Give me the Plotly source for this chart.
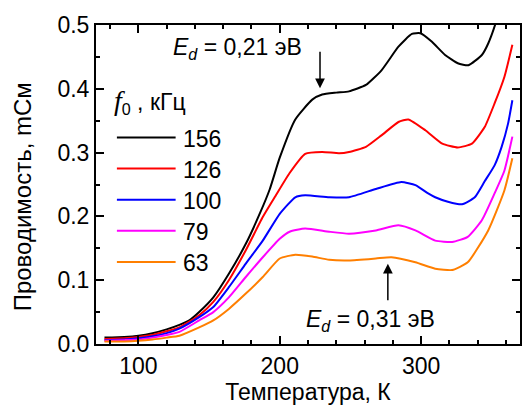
import plotly.graph_objects as go

# ---- data ----
names = ["156", "126", "100", "79", "63"]
colors = ["#000000", "#ff0000", "#0000ff", "#ff00ff", "#ff7f00"]

T_156 = [76, 90, 100, 110, 120, 129, 136, 143, 153, 164, 176, 186, 193, 200, 211, 223, 230, 240, 249, 261, 272, 284, 293.5, 299.5, 307.5, 317, 326, 333.5, 343, 347.5, 353.5, 358]
G_156 = [0.010, 0.011, 0.013, 0.017, 0.023, 0.030, 0.037, 0.050, 0.073, 0.110, 0.157, 0.205, 0.243, 0.292, 0.352, 0.383, 0.391, 0.394, 0.396, 0.406, 0.429, 0.466, 0.486, 0.487, 0.474, 0.453, 0.440, 0.437, 0.453, 0.471, 0.508, 0.545]

T_126 = [76, 90, 100, 110, 120, 129, 143, 153, 164, 176, 188, 197, 207, 218, 230, 242, 249, 261, 272, 284, 291, 303, 315, 326, 336, 345, 352, 359, 364.6]
G_126 = [0.008, 0.009, 0.011, 0.014, 0.020, 0.026, 0.045, 0.066, 0.100, 0.147, 0.199, 0.232, 0.268, 0.298, 0.301, 0.299, 0.301, 0.309, 0.327, 0.348, 0.352, 0.335, 0.314, 0.308, 0.314, 0.340, 0.377, 0.419, 0.469]

T_100 = [76, 90, 100, 110, 120, 129, 143, 153, 164, 176, 188, 200, 211, 218, 235, 249, 268, 286, 296, 305, 310, 319, 329, 338, 345, 352, 357, 361.5, 364.6]
G_100 = [0.006, 0.007, 0.009, 0.012, 0.017, 0.024, 0.042, 0.058, 0.089, 0.126, 0.162, 0.204, 0.230, 0.233, 0.230, 0.230, 0.243, 0.254, 0.249, 0.236, 0.230, 0.223, 0.219, 0.230, 0.255, 0.280, 0.309, 0.345, 0.382]

T_79 = [76, 90, 100, 110, 120, 129, 143, 153, 164, 176, 188, 200, 207, 218, 235, 249, 268, 284, 296, 310, 322, 333, 343, 352, 359, 364.6]
G_79 = [0.005, 0.006, 0.007, 0.010, 0.014, 0.019, 0.037, 0.050, 0.073, 0.105, 0.136, 0.165, 0.176, 0.181, 0.176, 0.173, 0.178, 0.186, 0.178, 0.162, 0.160, 0.168, 0.194, 0.236, 0.272, 0.325]

T_63 = [76, 90, 100, 110, 120, 129, 143, 153, 164, 176, 188, 200, 211, 223, 235, 249, 268, 279, 296, 310, 322, 333, 347.5, 359, 364.6]
G_63 = [0.004, 0.004, 0.005, 0.007, 0.010, 0.013, 0.026, 0.037, 0.055, 0.079, 0.105, 0.134, 0.140, 0.137, 0.132, 0.131, 0.134, 0.136, 0.128, 0.118, 0.116, 0.128, 0.178, 0.241, 0.291]

temps = [T_156, T_126, T_100, T_79, T_63]
conds = [G_156, G_126, G_100, G_79, G_63]

x_title = "Температура, К"
y_title = "Проводимость, mСм"
legend_title = "<i><span style='font-family:Liberation Serif;font-size:28px'>f</span></i><sub>0</sub> , кГц"
ann_top = "<i>E</i><sub><i>d</i></sub> = 0,21 эВ"
ann_bot = "<i>E</i><sub><i>d</i></sub> = 0,31 эВ"

FONT = "Liberation Sans, Arial, sans-serif"
FS = 23

fig = go.Figure()
for n, c, t, g in zip(names, colors, temps, conds):
    fig.add_trace(go.Scatter(x=t, y=g, mode="lines", name=n,
                             line=dict(color=c, width=2, shape="spline", smoothing=0.5),
                             showlegend=False))

# manual legend (paper coordinates)
H, W = 406, 523
ml, mr, mt, mb = 96, 1, 25, 62
pw, ph = W - ml - mr, H - mt - mb

def px2paper(xp, yp):
    return (xp - ml) / pw, 1 - (yp - mt) / ph

shapes = []
annotations = []
hx, hy = px2paper(112, 101)
annotations.append(dict(x=hx, y=hy, xref="paper", yref="paper", text=legend_title,
                        showarrow=False, xanchor="left", yanchor="middle",
                        font=dict(size=FS, color="black", family=FONT)))
leg_y0 = 137.5
leg_dy = 31.1
for i, (n, c) in enumerate(zip(names, colors)):
    yp = leg_y0 + i * leg_dy
    x0, y0 = px2paper(117, yp)
    x1, _ = px2paper(176, yp)
    shapes.append(dict(type="line", xref="paper", yref="paper", x0=x0, x1=x1, y0=y0, y1=y0,
                       line=dict(color=c, width=2)))
    tx, ty = px2paper(181, yp + 1)
    annotations.append(dict(x=tx, y=ty, xref="paper", yref="paper", text=n, showarrow=False,
                            xanchor="left", yanchor="middle",
                            font=dict(size=FS, color="black", family=FONT)))

# E_d annotations
annotations.append(dict(x=228.5, y=0.401, xref="x", yref="y", text="", showarrow=True,
                        ax=0, ay=-38, arrowhead=2, arrowsize=1.3, arrowwidth=1.5, arrowcolor="black"))
annotations.append(dict(x=276.5, y=0.1256, xref="x", yref="y", text="", showarrow=True,
                        ax=0, ay=38, arrowhead=2, arrowsize=1.3, arrowwidth=1.5, arrowcolor="black"))
tx, ty = px2paper(238, 48)
annotations.append(dict(x=tx, y=ty, xref="paper", yref="paper", text=ann_top, showarrow=False,
                        xanchor="center", yanchor="middle", font=dict(size=FS, color="black", family=FONT)))
tx, ty = px2paper(372, 320)
annotations.append(dict(x=tx, y=ty, xref="paper", yref="paper", text=ann_bot, showarrow=False,
                        xanchor="center", yanchor="middle", font=dict(size=FS, color="black", family=FONT)))

# y-axis title as rotated annotation
tx, ty = px2paper(22, 197)
annotations.append(dict(x=tx, y=ty, xref="paper", yref="paper", text=y_title, showarrow=False,
                        textangle=-90, xanchor="center", yanchor="middle",
                        font=dict(size=24, color="black", family=FONT)))

axis_common = dict(showline=True, linecolor="black", linewidth=2, mirror="allticks",
                   ticks="inside", ticklen=8, tickwidth=1.5, tickcolor="black",
                   showgrid=False, zeroline=False,
                   tickfont=dict(size=FS, color="black", family=FONT),
                   title_font=dict(size=FS, color="black", family=FONT))

fig.update_xaxes(range=[70, 370], dtick=100, tick0=0,
                 minor=dict(dtick=20, ticks="inside", ticklen=4, tickcolor="black", tickwidth=1.5),
                 title_text=x_title, title_standoff=2, **axis_common)
fig.update_yaxes(range=[0, 0.5], dtick=0.1, tickformat=".1f",
                 minor=dict(dtick=0.05, ticks="inside", ticklen=4, tickcolor="black", tickwidth=1.5),
                 **axis_common)

fig.update_layout(width=W, height=H, margin=dict(l=ml, r=mr, t=mt, b=mb),
                  paper_bgcolor="white", plot_bgcolor="white",
                  font=dict(family=FONT, color="black"),
                  shapes=shapes, annotations=annotations, showlegend=False)

fig.write_html("out.html")
